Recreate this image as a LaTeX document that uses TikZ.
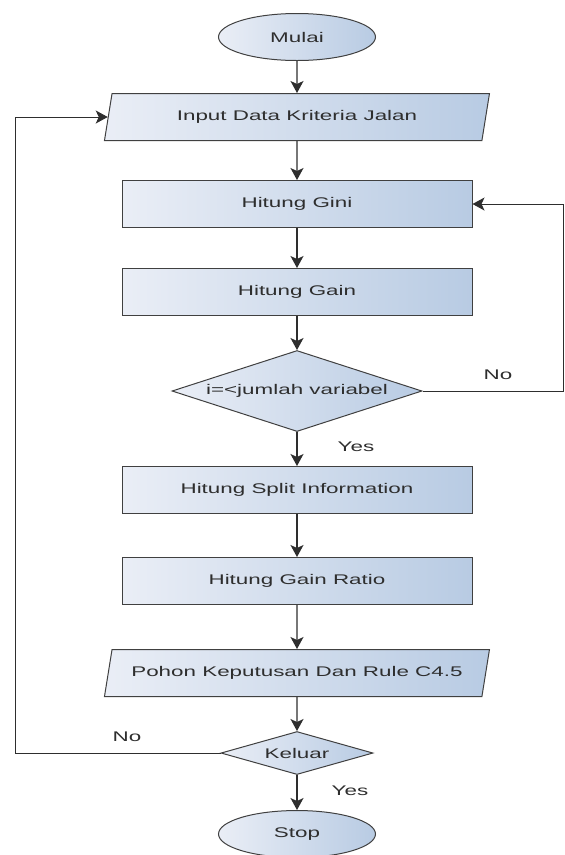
\documentclass[tikz,border=0pt]{standalone}
\usepackage{fontspec}
\setmainfont{Liberation Sans}[FakeStretch=1.6]
\usetikzlibrary{shapes.geometric, arrows.meta, positioning}
\definecolor{fillL}{HTML}{EAEEF6}
\definecolor{fillR}{HTML}{B8CBE3}
\definecolor{edge}{HTML}{404040}
\definecolor{ink}{HTML}{2E2E2E}

\begin{document}
\begin{tikzpicture}[
  x=1pt, y=1pt,
  font=\fontsize{14pt}{16pt}\selectfont,
  term/.style={ellipse, draw=edge, line width=1pt, left color=fillL, right color=fillR, minimum width=157pt, minimum height=47pt, text=ink},
  proc/.style={rectangle, draw=edge, line width=1pt, left color=fillL, right color=fillR, minimum width=350pt, minimum height=47pt, text=ink},
  io/.style={trapezium, trapezium left angle=69, trapezium right angle=111, trapezium stretches body=true, draw=edge, line width=1pt, left color=fillL, right color=fillR, minimum width=385pt, minimum height=47pt, text=ink},
  dec/.style={diamond, draw=edge, line width=1pt, left color=fillL, right color=fillR, inner sep=0pt, text=ink},
  lbl/.style={text=ink},
  arrow/.style={draw=ink, line width=1.3pt, -{Stealth[length=12pt, width=13pt, inset=3pt]}},
  line/.style={draw=ink, line width=1.3pt}
]
\useasboundingbox (0,0) rectangle (565,-855);

\node[term] (mulai) at (297,-37) {Mulai};
\node[io, below=32pt of mulai] (input) {Input Data Kriteria Jalan};
\node[proc, below=39pt of input] (gini) {Hitung Gini};
\node[proc, below=40pt of gini] (gain) {Hitung Gain};
\node[dec, below=34pt of gain, minimum width=250pt, minimum height=81pt, aspect=3.1] (cek) {i=<jumlah variabel};
\node[proc, below=34pt of cek] (split) {Hitung Split Information};
\node[proc, below=43pt of split] (ratio) {Hitung Gain Ratio};
\node[io, below=44pt of ratio] (pohon) {Pohon Keputusan Dan Rule C4.5};
\node[dec, below=34pt of pohon, minimum width=152pt, minimum height=43pt, aspect=3.5] (keluar) {Keluar};
\node[term, below=35pt of keluar] (stop) {Stop};

\node[lbl] (no1) at (498,-375) {No};
\node[lbl] (yes1) at (356,-447) {Yes};
\node[lbl] (no2) at (127,-737) {No};
\node[lbl] (yes2) at (350,-791) {Yes};

\draw[arrow] (mulai) -- (input);
\draw[arrow] (input) -- (gini);
\draw[arrow] (gini) -- (gain);
\draw[arrow] (gain) -- (cek);
\draw[arrow] (cek) -- (split);
\draw[arrow] (split) -- (ratio);
\draw[arrow] (ratio) -- (pohon);
\draw[arrow] (pohon) -- (keluar);
\draw[arrow] (keluar) -- (stop);
% loop back: not all variables done
\draw[arrow, line width=1pt] (cek.east) -- ++(141,0) |- (gini.east);
% loop back: not finished
\draw[arrow, line width=1pt] (keluar.west) -- ++(-205,0) |- (input.west);
\end{tikzpicture}
\end{document}
